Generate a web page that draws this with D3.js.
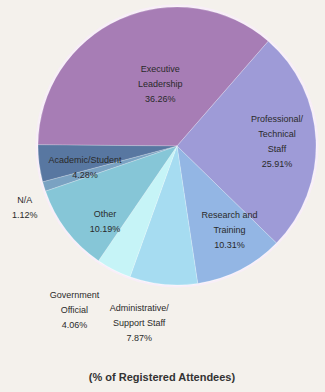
<!DOCTYPE html>
<html>
<head>
<meta charset="utf-8">
<script src="https://cdn.jsdelivr.net/npm/d3@7"></script>
<style>
  html, body { margin: 0; padding: 0; background: #f4f1ec; }
  svg { display: block; font-family: "Liberation Sans", Arial, sans-serif; }
</style>
</head>
<body>
<svg id="chart" width="325" height="392"></svg>
<script>
// categories in drawing order (clockwise from the left edge)
const categories = [
  ["Executive", "Leadership"],
  ["Professional/", "Technical", "Staff"],
  ["Research and", "Training"],
  ["Administrative/", "Support Staff"],
  ["Government", "Official"],
  ["Other"],
  ["N/A"],
  ["Academic/Student"]
];
const shares = [36.26, 25.91, 10.31, 7.87, 4.06, 10.19, 1.12, 4.28];
const colors = ["#a77db5", "#9e9bd7", "#93b6e4", "#a6dcf1", "#c6f4f7", "#86c6d7", "#7aa2c2", "#5877a1"];
// label placement: distance from centre (fraction of radius) and angle nudge in degrees
const labelRadius = [0.46, 0.72, 0.71, 1.3, 1.39, 0.75, 1.18, 0.68];
const labelNudge = [9, 0, -5, 6.5, 5, -9, -5, -6];

const svg = d3.select("#chart");
const cx = 177, cy = 146, r = 139;
const g = svg.append("g").attr("transform", `translate(${cx},${cy})`);

const pie = d3.pie().sort(null).value((d) => d)
  .startAngle(-89.5 * Math.PI / 180)
  .endAngle(270.5 * Math.PI / 180);
const arcs = pie(shares);
const arc = d3.arc().innerRadius(0).outerRadius(r);

g.append("circle").attr("r", r + 1.5).attr("fill", "#fbf8fb").attr("stroke", "#f8eef8").attr("stroke-width", 2);

g.selectAll("path.slice")
  .data(arcs)
  .join("path")
  .attr("class", "slice")
  .attr("d", arc)
  .attr("fill", (d, i) => colors[i])
  .attr("stroke", "rgba(255,255,255,0.35)")
  .attr("stroke-width", 0.6);

const lineH = 15;
arcs.forEach((d, i) => {
  const a = (d.startAngle + d.endAngle) / 2 + labelNudge[i] * Math.PI / 180;
  const rr = r * labelRadius[i];
  const x = rr * Math.sin(a), y = -rr * Math.cos(a);
  const lines = categories[i].concat([shares[i].toFixed(2) + "%"]);
  const text = g.append("text")
    .attr("text-anchor", "middle")
    .attr("font-size", 9)
    .attr("fill", "#2a2a2a");
  lines.forEach((t, k) => {
    text.append("tspan")
      .attr("x", x)
      .attr("y", y + (k - (lines.length - 1) / 2) * lineH + 3)
      .text(t);
  });
});

svg.append("text")
  .attr("x", 162)
  .attr("y", 381)
  .attr("text-anchor", "middle")
  .attr("font-size", 11)
  .attr("font-weight", "bold")
  .attr("fill", "#333")
  .text("(% of Registered Attendees)");
</script>
</body>
</html>
